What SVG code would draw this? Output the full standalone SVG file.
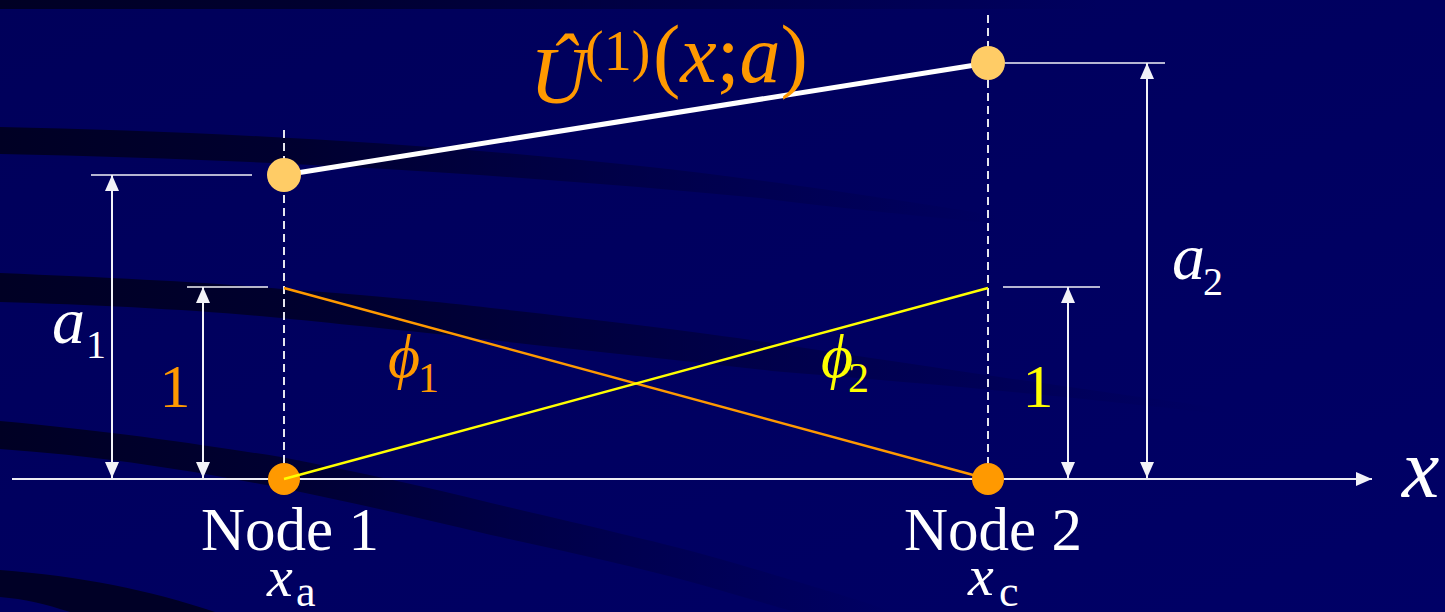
<svg xmlns="http://www.w3.org/2000/svg" width="1445" height="612" viewBox="0 0 1445 612">
  <style>
    text { font-family: 'Liberation Serif', 'Times New Roman', Tinos, 'DejaVu Serif', serif; }
    .it { font-style: italic; }
    .dash { stroke: #e6e6ee; stroke-width: 2; stroke-dasharray: 8 5; fill: none; }
    .tick { stroke: #f2f2f8; stroke-width: 1.5; fill: none; }
    .dim { stroke: #f2f2f8; stroke-width: 2; fill: none; marker-start: url(#arr); marker-end: url(#arr); }
    .wht { fill: #ffffff; }
    .org { fill: #ff9900; }
    .yel { fill: #ffff00; }
  </style>
  <defs>
    <linearGradient id="bg" x1="0" y1="0" x2="1" y2="1">
      <stop offset="0" stop-color="#00005a"/>
      <stop offset="1" stop-color="#000066"/>
    </linearGradient>
    <linearGradient id="band" x1="0" y1="0" x2="1" y2="0">
      <stop offset="0" stop-color="#000024" stop-opacity="1"/>
      <stop offset="0.3" stop-color="#000028" stop-opacity="0.85"/>
      <stop offset="0.7" stop-color="#00002e" stop-opacity="0.35"/>
      <stop offset="1" stop-color="#000030" stop-opacity="0"/>
    </linearGradient>
    <marker id="arr" viewBox="0 0 16 14" markerWidth="16" markerHeight="14" refX="16" refY="7" markerUnits="userSpaceOnUse" orient="auto-start-reverse">
      <path d="M0,0 L16,7 L0,14 z" fill="#f2f2f8"/>
    </marker>
  </defs>

  <!-- background -->
  <rect x="0" y="0" width="1445" height="612" fill="url(#bg)"/>
  <rect x="0" y="0" width="1100" height="9" fill="url(#band)"/>
  <path d="M0,127 C250,132 550,150 800,186 C900,200 960,210 1000,216 L1000,224 C900,214 820,206 760,198 C550,178 300,160 0,154 Z" fill="url(#band)"/>
  <path d="M0,273 C120,278 220,283 281,289 C380,296 440,302 491,308 C600,320 700,332 772,343 C950,370 1100,392 1220,408 L1220,414 C1100,400 950,385 772,371 C680,360 580,350 491,340 C420,332 340,324 281,318 C200,310 100,305 0,302 Z" fill="url(#band)"/>
  <path d="M0,421 C120,432 210,446 281,457 C360,472 430,488 491,503 C580,524 650,540 702,554 C780,576 840,594 895,612 L795,612 C760,602 730,593 702,585 C630,565 560,550 491,535 C420,518 350,502 281,488 C190,470 100,456 0,449 Z" fill="url(#band)"/>
  <path d="M0,570 C80,576 150,590 215,612 L70,612 C45,604 25,599 0,597 Z" fill="#000026"/>

  <!-- connectors -->
  <g id="connectors">
    <line class="dash" x1="284" y1="130" x2="284" y2="479"/>
    <line class="dash" x1="988" y1="15" x2="988" y2="479"/>
    <line x1="12" y1="479" x2="1372" y2="479" stroke="#ececf4" stroke-width="2" marker-end="url(#arr)"/>
    <line x1="284" y1="175" x2="988" y2="63" stroke="#ffffff" stroke-width="5"/>
    <line x1="284" y1="288" x2="988" y2="479" stroke="#ff9900" stroke-width="2.5"/>
    <line class="tick" x1="91" y1="175" x2="252" y2="175"/>
    <line class="tick" x1="187" y1="287" x2="268" y2="287"/>
    <line class="tick" x1="1003" y1="287" x2="1100" y2="287"/>
    <line class="tick" x1="1005" y1="63" x2="1165" y2="63"/>
    <line class="dim" x1="112" y1="175" x2="112" y2="478"/>
    <line class="dim" x1="203" y1="287" x2="203" y2="478"/>
    <line class="dim" x1="1068" y1="287" x2="1068" y2="478"/>
    <line class="dim" x1="1147" y1="63" x2="1147" y2="478"/>
  </g>

  <g id="node1">
    <circle cx="284" cy="479" r="16" fill="#ff9900"/>
    <text class="wht" x="290" y="550" font-family="Liberation Serif, serif" font-size="61" text-anchor="middle">Node 1</text>
    <text class="wht" y="596" font-family="Liberation Serif, serif"><tspan class="it" x="267" font-size="58">x</tspan><tspan x="296" y="606" font-size="44">a</tspan></text>
  </g>

  <line id="phi2-line" x1="284" y1="479" x2="988" y2="288" stroke="#ffff00" stroke-width="2.5"/>

  <g id="node2">
    <circle cx="988" cy="479" r="16" fill="#ff9900"/>
    <text class="wht" x="993" y="550" font-family="Liberation Serif, serif" font-size="61" text-anchor="middle">Node 2</text>
    <text class="wht" y="595" font-family="Liberation Serif, serif"><tspan class="it" x="968" font-size="58">x</tspan><tspan x="999" y="606" font-size="44">c</tspan></text>
  </g>

  <g id="point-a1">
    <circle cx="284" cy="175" r="17" fill="#ffcc66"/>
  </g>
  <g id="point-a2">
    <circle cx="988" cy="63" r="17" fill="#ffcc66"/>
  </g>

  <g id="title">
    <text class="org" font-family="Liberation Serif, serif"><tspan class="it" x="530" y="103" font-size="80">Û</tspan><tspan x="585" y="70" font-size="56">(1)</tspan><tspan x="653" y="82" font-size="82">(</tspan><tspan class="it" font-size="82">x</tspan><tspan font-size="82">;</tspan><tspan class="it" font-size="82">a</tspan><tspan font-size="82">)</tspan></text>
  </g>

  <g id="labels" font-family="Liberation Serif, serif">
    <text class="wht"><tspan class="it" x="52" y="343" font-size="66">a</tspan><tspan x="86" y="358" font-size="40">1</tspan></text>
    <text class="org" x="175" y="407" font-size="62" text-anchor="middle">1</text>
    <text class="org"><tspan class="it" x="388" y="377" font-size="62">ϕ</tspan><tspan x="418" y="392" font-size="42">1</tspan></text>
    <text class="yel"><tspan class="it" x="821" y="377" font-size="62">ϕ</tspan><tspan x="848" y="392" font-size="42">2</tspan></text>
    <text class="yel" x="1038" y="407" font-size="62" text-anchor="middle">1</text>
    <text class="wht"><tspan class="it" x="1172" y="279" font-size="66">a</tspan><tspan x="1203" y="295" font-size="40">2</tspan></text>
    <text class="wht it" x="1402" y="497" font-size="84">x</text>
  </g>
</svg>
